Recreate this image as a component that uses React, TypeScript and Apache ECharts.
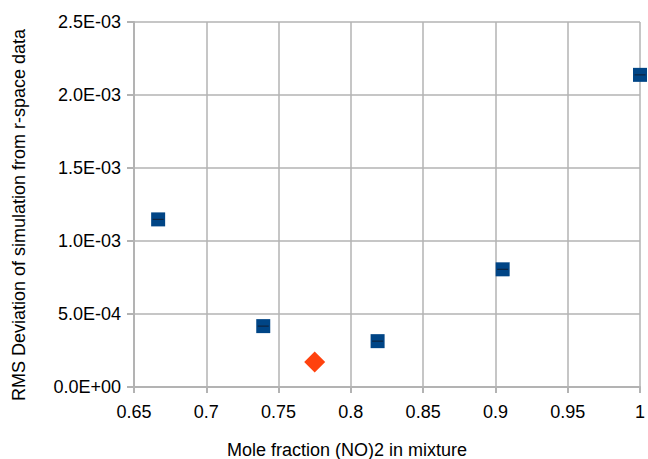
import React, { useEffect, useRef } from "react";
import * as echarts from "echarts";

const xTitle = "Mole fraction (NO)2 in mixture";
const yTitle = "RMS Deviation of simulation from r-space data";

const seriesAX = [0.6667, 0.7394, 0.8185, 0.905, 1.0];
const seriesAY = [1.148e-3, 4.17e-4, 3.14e-4, 8.06e-4, 2.138e-3];
const seriesBX = [0.775];
const seriesBY = [1.71e-4];

const xMin = 0.65;
const xMax = 1.0;
const xStep = 0.05;
const yMin = 0;
const yMax = 2.5e-3;
const yStep = 5e-4;

function sci(v: number): string {
  if (Math.abs(v) < 1e-15) return "0.0E+00";
  let exp = Math.floor(Math.log10(Math.abs(v)) + 1e-9);
  let mant = v / Math.pow(10, exp);
  if (Math.abs(mant) >= 9.95) {
    mant /= 10;
    exp += 1;
  }
  const sign = exp < 0 ? "-" : "+";
  const e = String(Math.abs(exp)).padStart(2, "0");
  return mant.toFixed(1) + "E" + sign + e;
}

function fmtX(v: number): string {
  return String(parseFloat(v.toFixed(2)));
}

export default function App() {
  const ref = useRef<HTMLDivElement>(null);
  useEffect(() => {
    if (!ref.current) return;
    const chart = echarts.init(ref.current, null, { renderer: "svg" });
    const font = "'Liberation Sans', Arial, sans-serif";
    const gridColor = "#b3b3b3";
    const dataA = seriesAX.map((x, i) => [x, seriesAY[i]]);
    const dataB = seriesBX.map((x, i) => [x, seriesBY[i]]);
    chart.setOption({
      animation: false,
      backgroundColor: "#ffffff",
      grid: { left: 134, right: 5, top: 22, bottom: 72, containLabel: false },
      xAxis: {
        type: "value",
        min: xMin,
        max: xMax,
        interval: xStep,
        axisLine: { show: true, onZero: false, lineStyle: { color: gridColor, width: 2 } },
        axisTick: { show: true, inside: false, length: 6, lineStyle: { color: gridColor, width: 2 } },
        axisLabel: {
          margin: 16,
          color: "#000000",
          fontFamily: font,
          fontSize: 18,
          formatter: (v: number) => fmtX(v),
        },
        splitLine: { show: true, lineStyle: { color: gridColor, width: 1.5 } },
      },
      yAxis: {
        type: "value",
        min: yMin,
        max: yMax,
        interval: yStep,
        axisLine: { show: true, lineStyle: { color: gridColor, width: 2 } },
        axisTick: { show: true, inside: false, length: 7, lineStyle: { color: gridColor, width: 2 } },
        axisLabel: {
          margin: 13,
          color: "#000000",
          fontFamily: font,
          fontSize: 18,
          formatter: (v: number) => sci(v),
        },
        splitLine: { show: true, lineStyle: { color: gridColor, width: 1.5 } },
      },
      graphic: [
        {
          type: "text",
          x: 347,
          y: 450,
          style: {
            text: xTitle,
            fontFamily: font,
            fontSize: 18,
            fill: "#000000",
            align: "center",
            verticalAlign: "middle",
          },
        },
        {
          type: "text",
          x: 19,
          y: 215,
          rotation: Math.PI / 2,
          style: {
            text: yTitle,
            fontFamily: font,
            fontSize: 18,
            fill: "#000000",
            align: "center",
            verticalAlign: "middle",
          },
        },
      ],
      series: [
        {
          type: "scatter",
          data: dataA,
          symbol: "rect",
          symbolSize: 14,
          clip: false,
          itemStyle: { color: "#004586", opacity: 1 },
          z: 3,
        },
        {
          type: "scatter",
          data: dataA,
          symbol: "rect",
          symbolSize: [11, 1.2],
          clip: false,
          itemStyle: { color: "#0d2440", opacity: 1 },
          z: 4,
          silent: true,
        },
        {
          type: "scatter",
          data: dataB,
          symbol: "diamond",
          symbolSize: 21,
          clip: false,
          itemStyle: { color: "#ff420e", opacity: 1 },
          z: 3,
        },
      ],
    });
    return () => chart.dispose();
  }, []);
  return (
    <div
      ref={ref}
      style={{ position: "absolute", left: 0, top: 0, width: 648, height: 459 }}
    />
  );
}
